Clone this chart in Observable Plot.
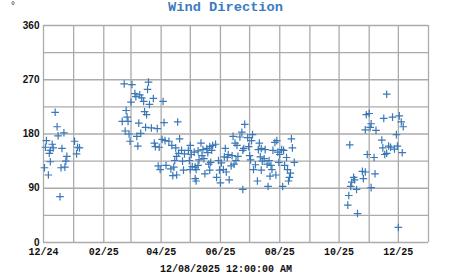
<!DOCTYPE html>
<html>
<head>
<meta charset="utf-8">
<script src="https://cdn.jsdelivr.net/npm/d3@7"></script>
<script src="https://cdn.jsdelivr.net/npm/@observablehq/plot@0.6"></script>
<style>
  body { margin: 0; background: #fff; }
  #wrap { position: relative; width: 451px; height: 275px; overflow: hidden; background: #fff; }
  #chart { position: absolute; left: 0; top: 0; }
  #title { position: absolute; left: 0; top: 1px; width: 451px; text-align: center;
           font: bold 13.7px "Liberation Mono", monospace; color: #3b7cbf; line-height: 14px; }
  #unit { position: absolute; left: 11px; top: 1px; font: 10px "Liberation Sans", sans-serif;
          color: #333; line-height: 10px; }
  #caption { position: absolute; left: 0; top: 264px; width: 452px; text-align: center;
             font: bold 10px "Liberation Mono", monospace; color: #111; line-height: 11px; }
</style>
</head>
<body>
<div id="wrap">
  <div id="chart"></div>
  <div id="title">Wind Direction</div>
  <div id="unit">°</div>
  <div id="caption">12/08/2025 12:00:00 AM</div>
</div>
<script>
// ---- data ----
const datesWinter = ["2024-12-13","2024-12-15","2024-12-22","2024-12-16","2024-12-04","2024-12-10","2024-12-03","2024-12-11","2024-12-08","2024-12-07","2024-12-20","2025-01-02","2025-01-05","2025-01-07","2025-01-04","2024-12-25","2024-12-24","2024-12-08","2024-12-02","2024-12-19","2024-12-23","2024-12-06","2024-12-18"];
const dirsWinter  = [216,192,182,177,169,163,158,157,153,148,156,168,158,157,147,143,135,134,124,124,125,112,76];

const datesSpring = ["2025-02-22","2025-03-02","2025-03-19","2025-03-18","2025-03-05","2025-03-10","2025-03-06","2025-03-12","2025-03-24","2025-03-01","2025-03-14","2025-03-20","2025-04-03","2025-02-24","2025-03-15","2025-03-17","2025-02-25","2025-02-20","2025-02-26","2025-03-09","2025-04-04","2025-04-18","2025-03-16","2025-03-22","2025-03-28","2025-02-23","2025-02-27","2025-03-11","2025-03-07","2025-02-28","2025-03-08","2025-03-25","2025-03-26","2025-03-30","2025-04-02","2025-04-05","2025-04-09","2025-04-12","2025-04-16","2025-04-20","2025-03-29","2025-03-31","2025-04-06","2025-04-11","2025-04-14","2025-04-15","2025-04-17","2025-04-13","2025-04-17"];
const dirsSpring  = [263,262,266,254,247,245,242,240,239,233,234,229,234,219,217,212,208,201,201,198,199,200,191,190,189,185,180,181,176,168,160,165,159,158,171,169,168,161,157,172,127,121,128,122,125,136,143,111,112];

const datesEarlySummer = ["2025-06-26","2025-06-23","2025-06-14","2025-06-21","2025-06-16","2025-06-18","2025-06-25","2025-05-12","2025-05-01","2025-04-22","2025-04-29","2025-05-05","2025-05-09","2025-05-14","2025-05-18","2025-05-21","2025-05-24","2025-05-27","2025-05-23","2025-04-19","2025-04-25","2025-05-02","2025-05-13","2025-05-19","2025-06-06","2025-06-09","2025-06-13","2025-06-19","2025-06-24","2025-04-23","2025-04-30","2025-05-10","2025-05-15","2025-05-22","2025-05-30","2025-06-05","2025-06-08","2025-06-17","2025-05-03","2025-05-06","2025-05-09","2025-05-20","2025-06-02","2025-06-12","2025-06-15","2025-04-24","2025-05-01","2025-05-07","2025-05-21","2025-05-31","2025-06-04","2025-06-07","2025-05-16","2025-05-28","2025-06-10","2025-05-06","2025-05-07","2025-06-01","2025-06-24"];
const dirsEarlySummer  = [196,183,176,175,165,161,156,165,161,153,153,150,152,154,156,159,161,163,153,148,147,146,144,149,156,146,144,143,153,135,136,137,139,133,136,142,141,136,126,125,128,130,132,127,130,120,121,121,120,120,121,117,114,108,104,106,102,99,88];

const datesLateSummer = ["2025-08-13","2025-08-14","2025-07-04","2025-06-29","2025-07-03","2025-07-11","2025-07-27","2025-07-29","2025-06-30","2025-07-10","2025-07-13","2025-07-17","2025-07-25","2025-07-30","2025-08-03","2025-08-05","2025-08-01","2025-07-01","2025-07-12","2025-07-16","2025-08-08","2025-08-16","2025-07-02","2025-07-14","2025-07-21","2025-07-31","2025-08-06","2025-07-07","2025-07-19","2025-07-23","2025-07-05","2025-07-13","2025-07-24","2025-08-09","2025-08-12","2025-07-22","2025-07-28","2025-08-11","2025-08-10","2025-07-09","2025-07-20","2025-08-04"];
const dirsLateSummer  = [172,157,179,174,169,165,166,169,159,154,156,154,153,150,154,153,146,144,142,139,141,133,137,135,136,133,128,129,130,128,121,120,121,121,115,110,112,108,102,102,93,93];

const datesAutumn = ["2025-10-29","2025-11-01","2025-11-16","2025-11-25","2025-12-02","2025-12-04","2025-12-06","2025-11-03","2025-11-02","2025-10-28","2025-11-08","2025-11-29","2025-10-12","2025-11-14","2025-11-15","2025-11-21","2025-11-23","2025-11-27","2025-11-30","2025-11-19","2025-11-17","2025-12-05","2025-10-30","2025-11-06","2025-10-25","2025-10-28","2025-11-07","2025-10-16","2025-10-17","2025-10-26","2025-10-14","2025-10-13","2025-10-19","2025-11-03","2025-10-11","2025-10-10","2025-10-20","2025-12-01","2025-11-19"];
const dirsAutumn  = [212,214,206,208,210,200,192,197,191,187,186,179,162,170,157,160,158,155,160,148,146,149,146,141,118,117,114,108,104,106,100,93,88,91,78,62,48,25,246];

const yTicks = [0, 90, 180, 270, 360];
const xTicks = ["2024-12-01","2025-02-01","2025-04-01","2025-06-01","2025-08-01","2025-10-01","2025-12-01"];
const xTickLabels = ["12/24","02/25","04/25","06/25","08/25","10/25","12/25"];

// ---- build table ----
const groups = [
  [datesWinter, dirsWinter], [datesSpring, dirsSpring], [datesEarlySummer, dirsEarlySummer],
  [datesLateSummer, dirsLateSummer], [datesAutumn, dirsAutumn]
];
const data = groups.flatMap(([ds, vs]) => ds.map((d, i) => ({date: new Date(d), dir: vs[i]})));

const start = new Date("2024-12-01"), end = new Date("2026-01-01");
const labelOf = new Map(xTicks.map((d, i) => [new Date(d).getTime(), xTickLabels[i]]));

const plusSymbol = {
  draw(ctx, size) {
    const r = Math.sqrt(size / Math.PI);
    ctx.moveTo(-r, 0); ctx.lineTo(r, 0);
    ctx.moveTo(0, -r); ctx.lineTo(0, r);
  }
};

const gridStyle = {stroke: "#ababab", strokeOpacity: 1, strokeWidth: 1.3};

const chart = Plot.plot({
  width: 451, height: 275,
  marginTop: 25, marginBottom: 33, marginLeft: 43, marginRight: 23,
  style: {background: "transparent", overflow: "visible"},
  x: {type: "utc", domain: [start, end]},
  y: {domain: [0, 360]},
  marks: [
    Plot.gridX(d3.utcMonth.range(start, d3.utcDay.offset(end, 1)), gridStyle),
    Plot.gridY(d3.range(0, 361, 45), gridStyle),
    Plot.dot(data, {x: "date", y: "dir", symbol: plusSymbol, r: 3.8, stroke: "#3a78b8", strokeWidth: 1.2, fill: "none"}),
    Plot.axisX(xTicks.map(d => new Date(d)), {
      tickSize: 0, tickPadding: 5, label: null,
      tickFormat: d => labelOf.get(d.getTime()),
      fontFamily: "Liberation Mono, monospace", fontWeight: "bold", fontSize: 10, fill: "#111"
    }),
    Plot.axisY(yTicks, {
      tickSize: 0, tickPadding: 4, label: null,
      fontFamily: "Liberation Sans, Arial, sans-serif", fontWeight: "bold", fontSize: 10, fill: "#111"
    })
  ]
});
document.getElementById("chart").appendChild(chart);
</script>
</body>
</html>
